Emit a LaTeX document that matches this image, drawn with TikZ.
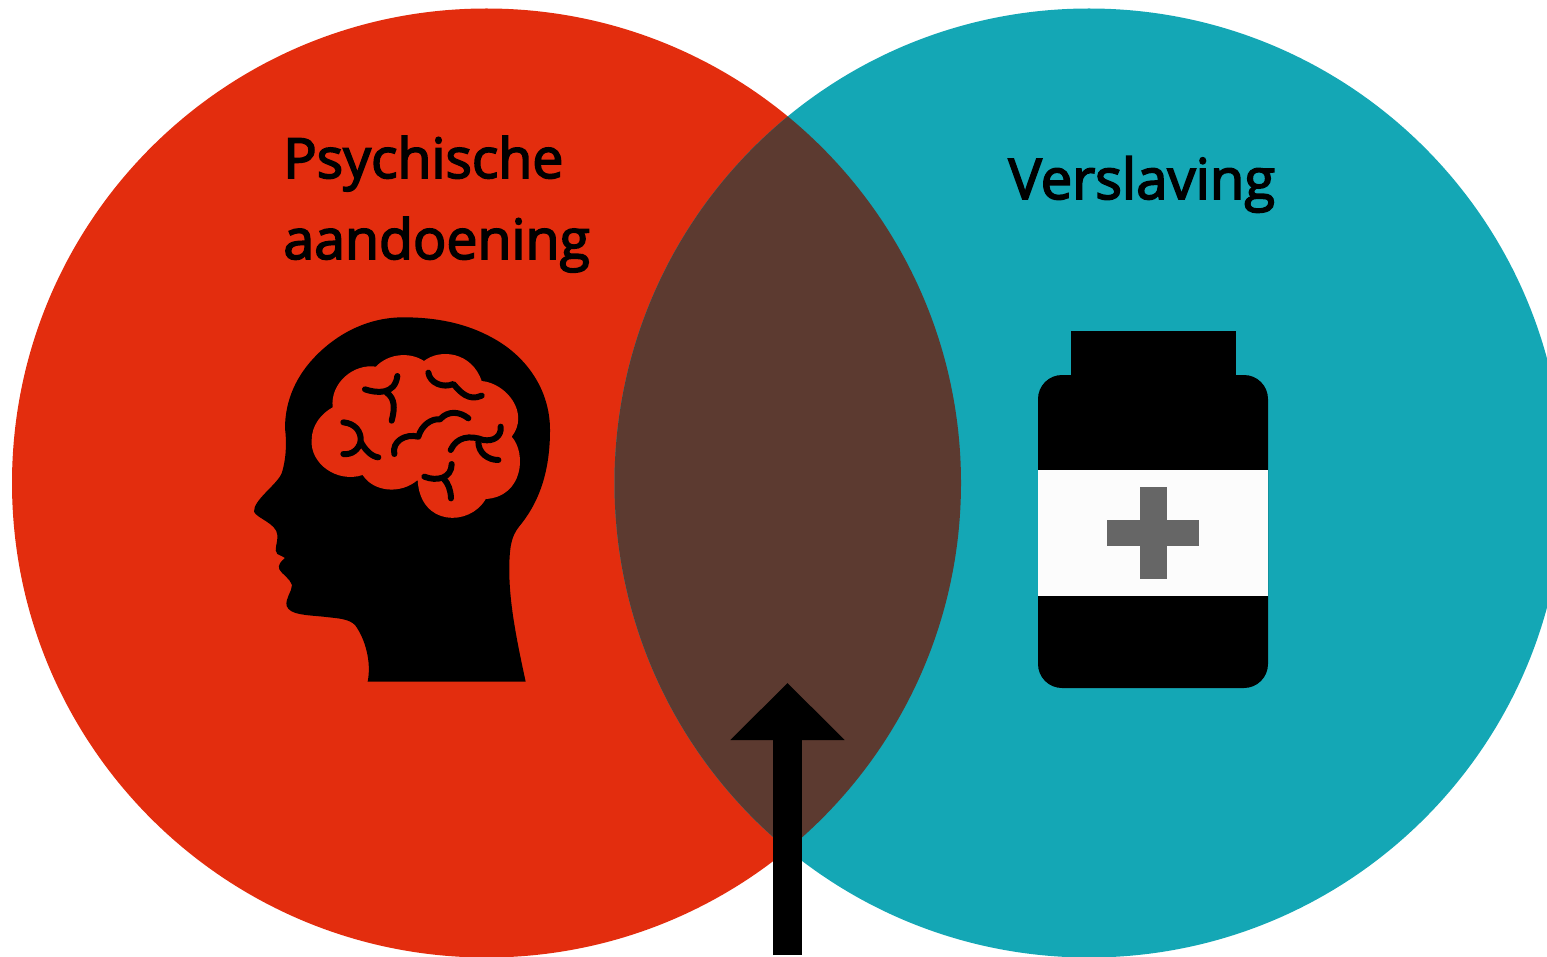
\documentclass[tikz,border=0pt]{standalone}
\usepackage{fontspec}
\setmainfont{Open Sans}[FakeBold=3]
\usetikzlibrary{arrows.meta}
\definecolor{redc}{HTML}{E32D0E}
\definecolor{tealc}{HTML}{14A7B5}
\definecolor{overlapc}{HTML}{5C3A30}
\definecolor{crossc}{HTML}{666666}
\tikzset{
  labeltext/.style={anchor=base west,inner sep=0pt,font=\fontsize{27.7}{34}\selectfont,text=black},
  sulcus/.style={draw=black,line width=3pt,line cap=round,line join=round},
  bottlepart/.style={fill=black,draw=none},
}
\begin{document}
\begin{tikzpicture}[x=0.5pt,y=-0.5pt]
\useasboundingbox (0,0) rectangle (1547,957);
\begin{scope}
\clip (0,0) rectangle (1547,957);
\fill[redc] (486.5,483) circle[radius=237.25pt];
\fill[tealc] (1089,483) circle[radius=237.25pt];
\begin{scope}
\clip (486.5,483) circle[radius=237.25pt];
\fill[overlapc] (1089,483) circle[radius=237.25pt];
\end{scope}
\end{scope}
% labels
\node[labeltext] (psy) at (283,178) {Psychische};
\node[labeltext] (aan) at (283,259) {aandoening};
\node[labeltext,font=\fontsize{28.1}{34}\selectfont] (ver) at (1008,199) {Verslaving};
% head
\begin{scope}[shift={(240,300)},x=0.16667pt,y=-0.16667pt]
\fill[black] (383,1145) -- (857,1145)
  .. controls (830,1020) and (805,900) .. (808,790)
  .. controls (810,720) and (820,700) .. (845,670)
  .. controls (900,600) and (930,510) .. (930,390)
  .. controls (930,270) and (860,170) .. (760,115)
  .. controls (680,70) and (590,52) .. (490,52)
  .. controls (390,52) and (300,95) .. (230,165)
  .. controls (170,225) and (135,300) .. (135,385)
  .. controls (142,440) and (135,490) .. (125,520)
  .. controls (110,555) and (40,600) .. (42,635)
  .. controls (50,655) and (110,670) .. (112,705)
  .. controls (114,730) and (100,750) .. (112,762)
  .. controls (120,768) and (130,768) .. (135,774)
  .. controls (125,782) and (112,795) .. (118,808)
  .. controls (125,822) and (150,835) .. (156,855)
  .. controls (156,875) and (135,895) .. (140,918)
  .. controls (150,945) and (200,945) .. (250,950)
  .. controls (290,955) and (325,955) .. (345,975)
  .. controls (375,1015) and (395,1085) .. (383,1145) -- cycle;
% brain
\fill[redc] (278,322) .. controls (270,250) and (340,190) .. (408,200)
  .. controls (445,160) and (510,155) .. (552,183)
  .. controls (600,145) and (695,155) .. (725,243)
  .. controls (800,250) and (870,340) .. (815,410)
  .. controls (860,460) and (850,590) .. (737,597)
  .. controls (690,680) and (540,680) .. (533,540)
  .. controls (480,585) and (400,575) .. (368,525)
  .. controls (290,550) and (210,490) .. (215,420)
  .. controls (215,375) and (245,340) .. (278,322) -- cycle;
\draw[sulcus] (375,268) .. controls (410,280) and (465,285) .. (472,228);
\draw[sulcus] (440,278) .. controls (465,295) and (465,325) .. (455,362);
\draw[sulcus] (565,218) .. controls (570,250) and (610,265) .. (640,252) .. controls (660,275) and (685,305) .. (725,287);
\draw[sulcus] (463,462) .. controls (455,425) and (495,400) .. (535,410) .. controls (545,375) and (575,355) .. (600,358) .. controls (625,330) and (660,335) .. (685,355);
\draw[sulcus] (632,450) .. controls (650,410) and (690,405) .. (730,420) .. controls (760,425) and (785,410) .. (782,380);
\draw[sulcus] (715,425) .. controls (715,460) and (745,480) .. (775,480);
\draw[sulcus] (310,367) .. controls (345,370) and (365,395) .. (362,425) .. controls (375,450) and (395,470) .. (415,472);
\draw[sulcus] (362,425) .. controls (355,450) and (335,465) .. (310,462);
\draw[sulcus] (553,530) .. controls (590,545) and (635,535) .. (635,492);
\draw[sulcus] (610,535) .. controls (625,550) and (632,570) .. (633,595);
\end{scope}
% bottle
\fill[bottlepart] (1071,331) rectangle (1236,376);
\fill[bottlepart,rounded corners=12pt] (1038,375) rectangle (1268,688);
\fill[white!99!black] (1038,470) rectangle (1268,596);
\fill[crossc] (1140,487) rectangle (1167,579);
\fill[crossc] (1107,520) rectangle (1199,546);
% arrow
\coordinate (arrowfoot) at (787.5,955);
\coordinate (arrowtip) at (787.5,683);
\draw[line width=14.5pt,-{Triangle[length=28.5pt,width=55.5pt]}] (arrowfoot) -- (arrowtip);
\end{tikzpicture}
\end{document}
